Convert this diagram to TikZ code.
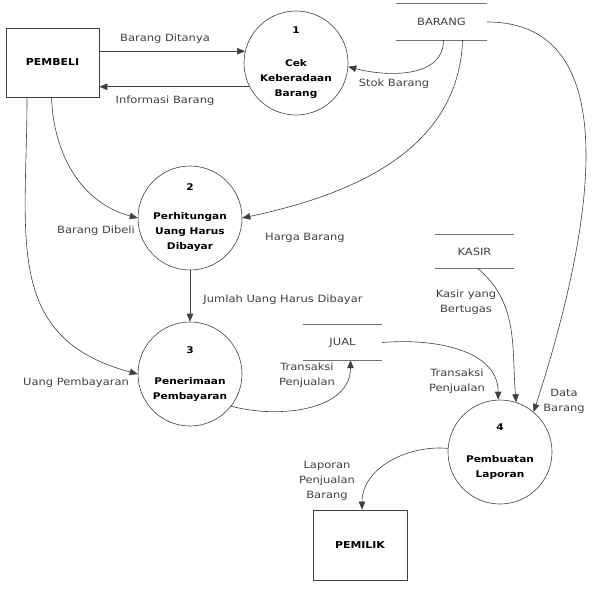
\documentclass[tikz,border=0pt]{standalone}
\usepackage{fontspec}
\setmainfont{DejaVu Sans}
\newfontfamily\dfdfont[FakeStretch=1.15]{DejaVu Sans}
\usetikzlibrary{arrows.meta,calc}

\begin{document}
\begin{tikzpicture}[x=1pt,y=1pt,
  flow/.style={draw=black!75, line width=0.6pt, -{Triangle[length=8pt,width=6.5pt]}},
  entity/.style={draw=black!75, line width=0.7pt, minimum width=93pt, minimum height=69pt, inner sep=0pt, font=\dfdfont\bfseries\fontsize{9.5}{11}\selectfont},
  process/.style={circle, draw=black!75, line width=0.6pt, minimum size=104pt, inner sep=0pt},
  proctext/.style={align=center, inner sep=0pt, font=\dfdfont\bfseries\fontsize{9.2}{15}\selectfont},
  store/.style={minimum height=36pt, inner sep=0pt, text=black!75, font=\dfdfont\fontsize{10}{12}\selectfont},
  storeline/.style={draw=black!55, line width=1pt},
  lbl/.style={align=center, inner sep=0pt, text=black!75, font=\dfdfont\fontsize{10}{15}\selectfont}]
\useasboundingbox (0,0) rectangle (593,-590);

%external entities
\node[entity] (pembeli) at (52.5,-62.5) {PEMBELI};
\node[entity, minimum width=94pt, minimum height=70pt] (pemilik) at (360,-545) {PEMILIK};

%processes
\node[process] (p1) at (296,-63) {};
\node[proctext] (p1text) at (p1) {1\\[18pt]Cek\\Keberadaan\\Barang};
\node[process] (p2) at (190,-218) {};
\node[proctext] (p2text) at (p2) {2\\[14pt]Perhitungan\\Uang Harus\\Dibayar};
\node[process] (p3) at (190,-374) {};
\node[proctext] (p3text) at (p3) {3\\[16pt]Penerimaan\\Pembayaran};
\node[process] (p4) at (500,-452) {};
\node[proctext] (p4text) at (p4) {4\\[17pt]Pembuatan\\Laporan};

%data stores
\node[store, minimum width=91pt] (barang) at (441.5,-22) {BARANG};
\node[store, minimum width=79pt, minimum height=33pt] (kasir) at (474.5,-251.5) {KASIR};
\node[store, minimum width=79pt, minimum height=35pt] (jual) at (342.5,-342.5) {JUAL};
\foreach \s in {barang,kasir,jual} {
  \draw[storeline] (\s.north west) -- (\s.north east);
  \draw[storeline] (\s.south west) -- (\s.south east);
}

%flows
\draw[flow] (pembeli.east |- p1.167) -- (p1.167); %ditanya
\draw[flow] (p1.207) -- (pembeli.east |- p1.207); %informasi
\draw[flow] ([xshift=2pt]barang.south) to[out=-90,in=-15] (p1.-4); %stok
\draw[flow] ([xshift=21pt]barang.south) to[out=-92,in=12] (p2.east); %harga
\draw[flow] (barang.east) to[out=0,in=72] (p4.50); %data barang
\draw[flow] ([xshift=-1pt]pembeli.south) to[out=-88,in=165] (p2.west); %dibeli
\draw[flow] ([xshift=-25.5pt]pembeli.south) to[out=-90,in=165,looseness=1.2] (p3.west); %pembayaran
\draw[flow] (p2.south) -- (p3.north); %jumlah
\draw[flow] (p3.-38) to[out=-15,in=-90] ([xshift=8pt]jual.south); %transaksi 1
\draw[flow] (jual.east) to[out=5,in=90] (p4.92); %transaksi 2
\draw[flow] ([xshift=3pt]kasir.south) to[out=-40,in=95] (p4.72); %kasir
\draw[flow] (p4.176) to[out=175,in=90] ([xshift=2pt]pemilik.north); %laporan

%labels
\node[lbl] (lditanya) at (165,-39) {Barang Ditanya};
\node[lbl] (linfo) at (165,-101) {Informasi Barang};
\node[lbl] (lstok) at (394,-84) {Stok Barang};
\node[lbl] (ldibeli) at (96,-231) {Barang Dibeli};
\node[lbl] (lharga) at (305,-238) {Harga Barang};
\node[lbl] (ljumlah) at (283,-300) {Jumlah Uang Harus Dibayar};
\node[lbl] (lbayar) at (76,-383) {Uang Pembayaran};
\node[lbl] (ltrans1) at (307,-375) {Transaksi\\Penjualan};
\node[lbl] (ltrans2) at (457,-381) {Transaksi\\Penjualan};
\node[lbl] (lkasir) at (466,-302) {Kasir yang\\Bertugas};
\node[lbl] (ldata) at (564,-401) {Data\\Barang};
\node[lbl] (llaporan) at (327,-481) {Laporan\\Penjualan\\Barang};
\end{tikzpicture}
\end{document}
